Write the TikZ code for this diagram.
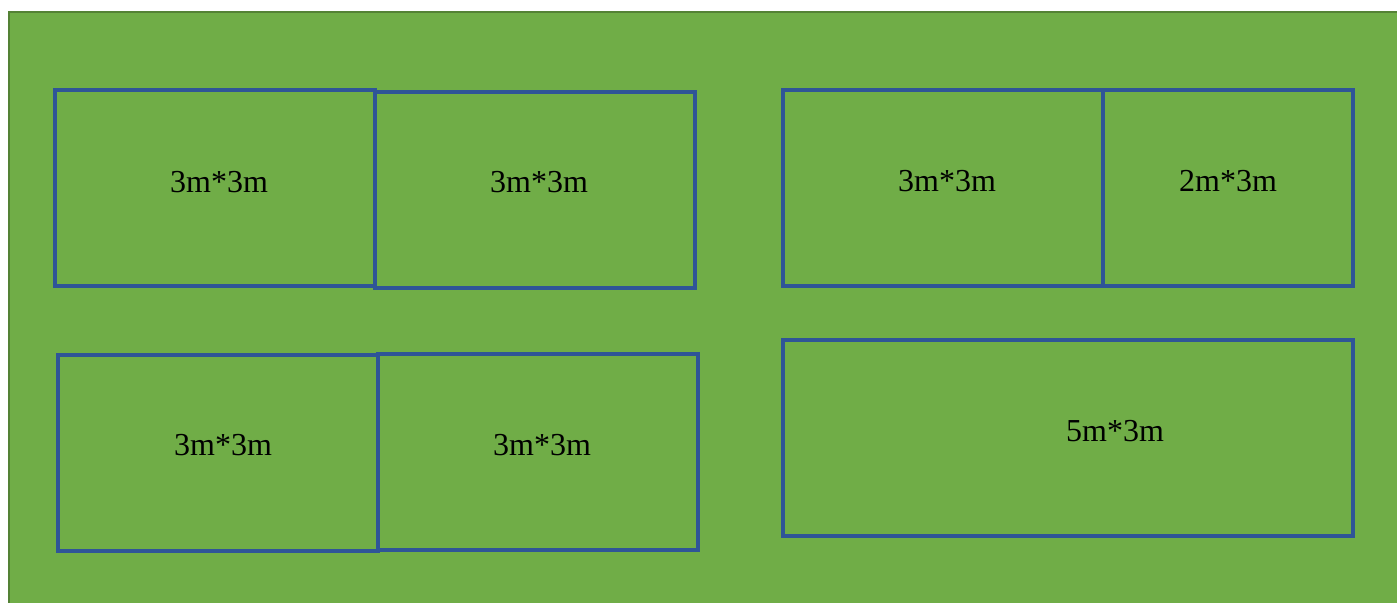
\documentclass[tikz,border=0pt]{standalone}
\usepackage{fontspec}
\setmainfont{Liberation Serif}
\definecolor{grass}{RGB}{112,173,71}
\definecolor{grassedge}{RGB}{84,130,53}
\definecolor{bedblue}{RGB}{47,85,151}

\tikzset{bed/.style={draw=bedblue,line width=1.9pt},
  size/.style={font=\fontsize{16}{19}\selectfont,text=black}}

\begin{document}
\begin{tikzpicture}[line cap=rect,line join=miter,x=0.5pt,y=0.5pt]
\useasboundingbox (0,0) rectangle (1397,602);
\clip (0,0) rectangle (1397,602);
\fill[white] (0,0) rectangle (1397,602);
\draw[fill=grass,draw=grassedge,line width=1.3pt] (9,-5) rectangle (1405,590);
% left beds
\draw[bed] (55,316) rectangle (375,512);
\draw[bed] (375,314) rectangle (695,510);
\draw[bed] (58,51) rectangle (378,247);
\draw[bed] (378,52) rectangle (698,248);
% right beds
\draw[bed] (783,316) rectangle (1103,512);
\draw[bed] (1103,316) rectangle (1353,512);
\draw[bed] (783,66) rectangle (1353,262);
% sizes
\node[size] (a1) at (219,420) {3m*3m};
\node[size] (a2) at (539,420) {3m*3m};
\node[size] (b1) at (947,421) {3m*3m};
\node[size] (b2) at (1228,421) {2m*3m};
\node[size] (c1) at (223,157) {3m*3m};
\node[size] (c2) at (542,157) {3m*3m};
\node[size] (d) at (1115,171) {5m*3m};
\end{tikzpicture}
\end{document}
